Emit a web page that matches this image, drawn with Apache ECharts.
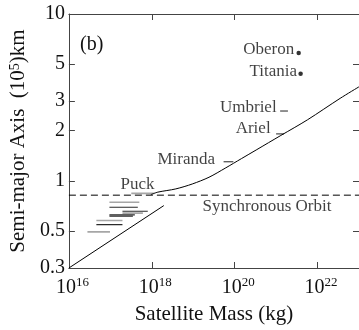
<!DOCTYPE html>
<html>
<head>
<meta charset="utf-8">
<script src="https://cdn.jsdelivr.net/npm/echarts@6/dist/echarts.min.js"></script>
<style>
  html, body { margin: 0; padding: 0; background: #fff; }
  #chart { width: 359px; height: 330px; }
</style>
</head>
<body>
<div id="chart"></div>
<script>
// masses in kg, semi-major axes in 10^5 km

// small inner moons: mass range drawn as a horizontal bar
const innerNames = ['Cordelia', 'Ophelia', 'Bianca', 'Cressida', 'Desdemona', 'Juliet', 'Portia', 'Rosalind', 'Belinda', 'Puck'];
const innerAxis = [0.494, 0.546, 0.578, 0.614, 0.625, 0.640, 0.657, 0.694, 0.743, 0.84];
const innerMassLo = [2.8e16, 4.6e16, 4.6e16, 9.5e16, 9.5e16, 1.96e17, 1.96e17, 9.5e16, 9.5e16, 3.2e17];
const innerMassHi = [9.8e16, 1.96e17, 1.96e17, 3.5e17, 3.9e17, 6.1e17, 8.0e17, 4.6e17, 5.0e17, 1.16e18];
const innerShade = ['gray', 'black', 'gray', 'black', 'black', 'gray', 'black', 'black', 'gray', 'gray'];

// large moons
const majorNames = ['Miranda', 'Ariel', 'Umbriel', 'Titania', 'Oberon'];
const majorAxis = [1.30, 1.91, 2.62, 4.39, 5.84];
const majorMassLo = [5.4e19, 1.0e21, 1.25e21, 3.9e21, 3.5e21];
const majorMassHi = [9.3e19, 1.55e21, 1.93e21, 3.9e21, 3.5e21];

// tidal evolution curve from synchronous orbit
const tidalMass = [9.5e17, 1.4e18, 3.8e18, 9.5e18, 2.4e19, 5.9e19, 1.47e20, 3.3e20, 1.3e21, 5.7e21, 3.5e22, 1.0e23];
const tidalAxis = [0.826, 0.855, 0.894, 0.957, 1.05, 1.19, 1.36, 1.53, 1.87, 2.32, 3.12, 3.66];

// lower limit line
const lowerMass = [1e16, 1.95e18];
const lowerAxis = [0.3, 0.71];

const syncAxis = 0.82;
const syncLabelMass = 6.0e20;

const massRange = [1e16, 1e23];
const axisRange = [0.3, 10];
const massTicks = [1e16, 1e18, 1e20, 1e22];
const axisTicks = [0.3, 0.5, 1, 2, 3, 5, 10];

const FONT = '"Liberation Serif", "Times New Roman", Times, serif';
const INK = '#111';
const FRAME = '#444';

const chart = echarts.init(document.getElementById('chart'), null, { renderer: 'canvas' });

const shadeColor = { gray: '#a6a6a6', black: '#2a2a2a' };
const shadeWidth = { gray: 1.6, black: 1.1 };

const segment = (lo, hi, a, color, width) => ({
  type: 'line',
  data: [[lo, a], [hi, a]],
  symbol: 'none',
  silent: true,
  lineStyle: { color, width },
});

// label placement per moon
const labelStyle = {
  Miranda: { position: 'left', distance: 8, offset: [0, -2] },
  Ariel: { position: 'left', distance: 5, offset: [0, -5] },
  Umbriel: { position: 'left', distance: 3, offset: [0, -3] },
  Titania: { position: 'left', distance: 3, offset: [0, -2] },
  Oberon: { position: 'left', distance: 4, offset: [0, -3] },
};

const labelItems = majorNames.map((name, i) => ({
  name,
  value: [majorMassLo[i], majorAxis[i]],
  label: labelStyle[name],
}));
const puck = innerNames.indexOf('Puck');
labelItems.push({
  name: 'Puck',
  value: [innerMassHi[puck], innerAxis[puck]],
  label: { position: 'top', align: 'right', distance: 0 },
});
labelItems.push({
  name: 'Synchronous Orbit',
  value: [syncLabelMass, syncAxis],
  label: { position: 'bottom', distance: 2 },
});

const series = [];
innerNames.forEach((n, i) => {
  const s = innerShade[i];
  series.push(segment(innerMassLo[i], innerMassHi[i], innerAxis[i], shadeColor[s], shadeWidth[s]));
});
majorNames.forEach((n, i) => {
  if (majorMassHi[i] > majorMassLo[i]) {
    series.push(segment(majorMassLo[i], majorMassHi[i], majorAxis[i], '#222', 1));
  }
});
series.push({
  type: 'scatter',
  silent: true,
  symbolSize: 4.5,
  itemStyle: { color: '#000' },
  data: majorNames
    .map((n, i) => [majorMassLo[i], majorAxis[i], majorMassHi[i] === majorMassLo[i]])
    .filter(d => d[2])
    .map(d => [d[0], d[1]]),
});
series.push({
  type: 'line',
  silent: true,
  symbol: 'none',
  smooth: 0.3,
  lineStyle: { color: '#000', width: 1 },
  data: tidalMass.map((m, i) => [m, tidalAxis[i]]),
});
series.push({
  type: 'line',
  silent: true,
  symbol: 'none',
  lineStyle: { color: '#000', width: 1 },
  data: lowerMass.map((m, i) => [m, lowerAxis[i]]),
});
series.push({
  type: 'line',
  silent: true,
  symbol: 'none',
  lineStyle: { color: '#000', width: 1, type: [7, 4] },
  data: massRange.map(m => [m, syncAxis]),
});
series.push({
  type: 'scatter',
  silent: true,
  symbolSize: 1,
  itemStyle: { color: 'rgba(0,0,0,0)' },
  z: 5,
  label: {
    show: true,
    formatter: '{b}',
    color: INK,
    fontFamily: FONT,
    fontSize: 17,
  },
  data: labelItems,
});

const option = {
  animation: false,
  backgroundColor: '#fff',
  grid: { left: 65, right: 0, top: 14, bottom: 58 },
  graphic: [{
    type: 'text',
    style: { x: 80, y: 45, text: '(b)', verticalAlign: 'middle', fontFamily: FONT, fontSize: 20, fill: INK },
  }],
  xAxis: [{
    type: 'log',
    min: massRange[0],
    max: massRange[1],
    position: 'bottom',
    name: 'Satellite Mass (kg)',
    nameLocation: 'middle',
    nameGap: 36,
    nameTextStyle: { fontFamily: FONT, fontSize: 21, color: INK },
    axisLine: { lineStyle: { color: FRAME, width: 1 } },
    axisTick: { inside: true, length: 6, lineStyle: { color: FRAME }, customValues: massTicks },
    splitLine: { show: false },
    axisLabel: {
      customValues: massTicks,
      margin: 8,
      padding: [0, 0, 0, 7],
      formatter: v => '{b|10}{s|' + Math.round(Math.log10(v)) + '}',
      rich: {
        b: { fontFamily: FONT, fontSize: 20, color: INK, padding: [2, 0, 0, 0] },
        s: { fontFamily: FONT, fontSize: 13, color: INK, verticalAlign: 'top' },
      },
    },
  }, {
    type: 'log',
    min: massRange[0],
    max: massRange[1],
    position: 'top',
    axisLine: { lineStyle: { color: FRAME, width: 1 } },
    axisTick: { inside: true, length: 6, lineStyle: { color: FRAME }, customValues: massTicks.slice(1) },
    axisLabel: { show: false },
    splitLine: { show: false },
  }],
  yAxis: [{
    type: 'log',
    min: axisRange[0],
    max: axisRange[1],
    position: 'left',
    name: 'Semi-major Axis  ({n|10}{s|5})km',
    nameLocation: 'middle',
    nameGap: 33,
    nameTextStyle: {
      fontFamily: FONT, fontSize: 21, color: INK,
      rich: {
        n: { fontFamily: FONT, fontSize: 21, color: INK },
        s: { fontFamily: FONT, fontSize: 14, color: INK, verticalAlign: 'top' },
      },
    },
    axisLine: { lineStyle: { color: FRAME, width: 1 } },
    axisTick: { inside: true, length: 6, lineStyle: { color: FRAME }, customValues: axisTicks },
    splitLine: { show: false },
    axisLabel: {
      customValues: axisTicks,
      margin: 4,
      fontFamily: FONT,
      fontSize: 20,
      color: INK,
      formatter: v => String(Number(v.toPrecision(3))),
    },
  }, {
    type: 'log',
    min: axisRange[0],
    max: axisRange[1],
    position: 'right',
    axisLine: { lineStyle: { color: FRAME, width: 1 } },
    axisTick: { inside: true, length: 6, lineStyle: { color: FRAME }, customValues: axisTicks.slice(1, -1) },
    axisLabel: { show: false },
    splitLine: { show: false },
  }],
  series,
};

chart.setOption(option);
</script>
</body>
</html>
